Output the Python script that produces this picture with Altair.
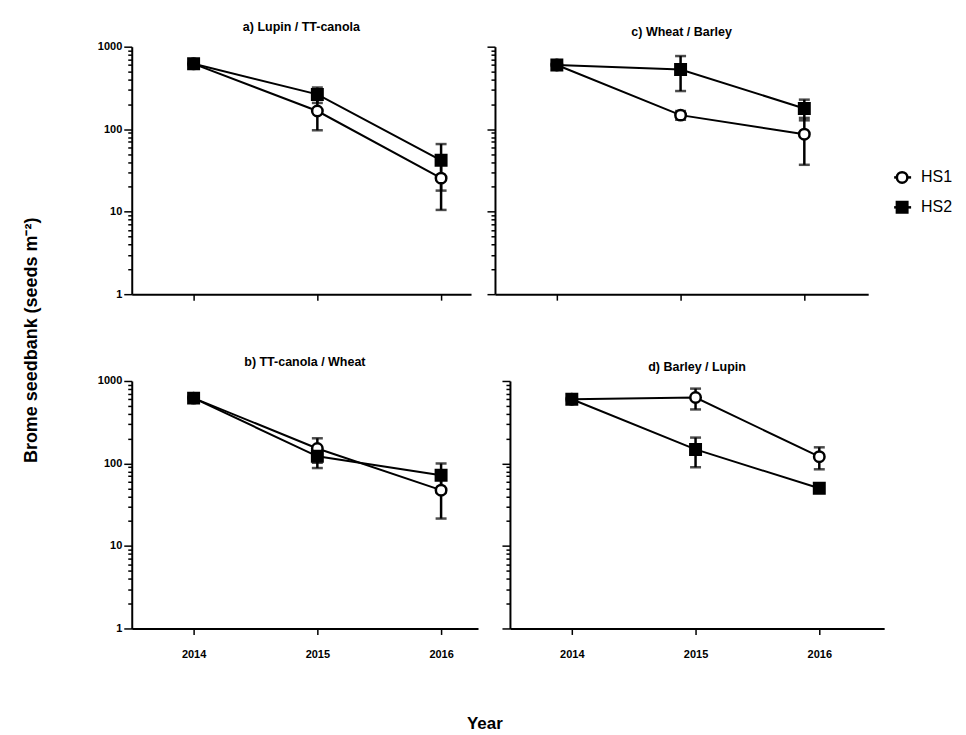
import altair as alt
import pandas as pd

years = [2014, 2015, 2016]
series = ["HS1", "HS2"]
panel_titles = {
    "a": "a) Lupin / TT-canola",
    "b": "b) TT-canola / Wheat",
    "c": "c) Wheat / Barley",
    "d": "d) Barley / Lupin",
}

# mean seedbank values (seeds m-2) and standard errors
a_hs1 = [620, 166, 25.5]
a_hs1_se = [40, 69, 15]
a_hs2 = [620, 264, 42]
a_hs2_se = [40, 56, 24]

b_hs1 = [620, 152, 47.5]
b_hs1_se = [40, 50, 26]
b_hs2 = [620, 122, 72]
b_hs2_se = [40, 34, 28]

c_hs1 = [600, 148, 87]
c_hs1_se = [35, 18, 50]
c_hs2 = [600, 530, 178]
c_hs2_se = [35, 240, 50]

d_hs1 = [600, 630, 121]
d_hs1_se = [35, 178, 36]
d_hs2 = [600, 148, 50]
d_hs2_se = [35, 58, 3]

y_tick_values = [1, 2, 3, 4, 5, 6, 7, 8, 9,
                 10, 20, 30, 40, 50, 60, 70, 80, 90,
                 100, 200, 300, 400, 500, 600, 700, 800, 900, 1000]

FONT = "Liberation Sans"


def make_df(hs1, hs1_se, hs2, hs2_se):
    rows = []
    for s, m, e in (("HS1", hs1, hs1_se), ("HS2", hs2, hs2_se)):
        for yr, mv, ev in zip(years, m, e):
            rows.append({"year": yr, "series": s, "mean": mv,
                         "lo": mv - ev, "hi": mv + ev})
    return pd.DataFrame(rows)


major_test = "datum.value == 1 || datum.value == 10 || datum.value == 100 || datum.value == 1000"


def panel(key, df, width, xmax, show_x_labels, show_y_labels):
    base = alt.Chart(df)
    x = alt.X("year:Q",
              scale=alt.Scale(domain=[2013.5, xmax], nice=False, zero=False),
              axis=alt.Axis(values=years, format="d", title=None, labels=show_x_labels,
                            tickSize=6, labelPadding=14, grid=False))
    y_axis = alt.Axis(values=y_tick_values, title=None, labels=show_y_labels,
                      labelExpr="(" + major_test + ") ? format(datum.value, 'd') : ''",
                      labelOverlap=False, grid=False,
                      tickSize={"condition": {"test": major_test, "value": 8}, "value": 4})
    yscale = alt.Scale(type="log", domain=[1, 1000], nice=False)
    y = alt.Y("mean:Q", scale=yscale, axis=y_axis)

    lines = base.mark_line(color="black", strokeWidth=2).encode(
        x=x, y=y, detail="series:N")
    bars = base.mark_rule(color="black", strokeWidth=2.5).encode(
        x=x, y=alt.Y("lo:Q", scale=yscale, axis=y_axis), y2="hi:Q")
    cap_lo = base.mark_tick(color="black", orient="horizontal", size=11, thickness=2.5).encode(
        x=x, y=alt.Y("lo:Q", scale=yscale, axis=y_axis))
    cap_hi = base.mark_tick(color="black", orient="horizontal", size=11, thickness=2.5).encode(
        x=x, y=alt.Y("hi:Q", scale=yscale, axis=y_axis))
    pts = base.mark_point(size=110, strokeWidth=2.5, stroke="black", opacity=1).encode(
        x=x, y=y,
        shape=alt.Shape("series:N", scale=alt.Scale(domain=series, range=["circle", "square"]), legend=None),
        fill=alt.Fill("series:N", scale=alt.Scale(domain=series, range=["white", "black"]), legend=None),
        order=alt.Order("series:N"),
    )
    return alt.layer(lines, bars, cap_lo, cap_hi, pts).properties(
        width=width, height=248,
        title=alt.TitleParams(panel_titles[key], font=FONT, fontSize=12.5, fontWeight="bold",
                              anchor="middle", frame="group", offset=7, color="black"),
    )


pa = panel("a", make_df(a_hs1, a_hs1_se, a_hs2, a_hs2_se), 340, 2013.5 + 340 / 124, False, True)
pc = panel("c", make_df(c_hs1, c_hs1_se, c_hs2, c_hs2_se), 374, 2013.5 + 374 / 124, False, False)
pb = panel("b", make_df(b_hs1, b_hs1_se, b_hs2, b_hs2_se), 347, 2013.5 + 347 / 124, True, True)
pd_ = panel("d", make_df(d_hs1, d_hs1_se, d_hs2, d_hs2_se), 375, 2013.5 + 375 / 124, True, False)

# legend built from the series list
leg_df = pd.DataFrame({"series": series})
leg_y = alt.Y("series:N", scale=alt.Scale(domain=series, range=[116, 176]), axis=None)
leg_base = alt.Chart(leg_df)
leg_line = leg_base.mark_rule(color="black", strokeWidth=2.5).encode(
    x=alt.value(11), x2=alt.value(28), y=leg_y)
leg_pts = leg_base.mark_point(size=110, strokeWidth=2.5, stroke="black", opacity=1).encode(
    x=alt.value(19), y=leg_y,
    shape=alt.Shape("series:N", scale=alt.Scale(domain=series, range=["circle", "square"]), legend=None),
    fill=alt.Fill("series:N", scale=alt.Scale(domain=series, range=["white", "black"]), legend=None),
)
leg_txt = leg_base.mark_text(align="left", baseline="middle", font=FONT, fontSize=16, color="black").encode(
    x=alt.value(38), y=leg_y, text="series:N")
legend = alt.layer(leg_line, leg_pts, leg_txt).properties(width=65, height=248)

row1 = alt.hconcat(pa, pc, legend, spacing=15)
row2 = alt.hconcat(pb, pd_, spacing=23)

grid = alt.vconcat(row1, row2, spacing=54).properties(
    title=alt.TitleParams("Brome seedbank (seeds m⁻²)", orient="left", anchor="middle",
                          font=FONT, fontSize=18, fontWeight="bold", offset=56, color="black"),
)

chart = alt.hconcat(grid).properties(
    title=alt.TitleParams("Year", orient="bottom", anchor="middle", frame="bounds",
                          font=FONT, fontSize=17, fontWeight="bold", offset=57, dx=-3, color="black"),
    padding={"left": 15, "top": 12, "right": 5, "bottom": 5},
).configure_view(stroke=None).configure_axis(
    domainColor="black", domainWidth=2, tickColor="black", tickWidth=1.5,
    labelFont=FONT, labelFontSize=11, labelFontWeight="bold", labelColor="black",
).resolve_scale(shape="shared", fill="shared")

chart.save("out.html", embed_options={"renderer": "svg", "actions": False})
